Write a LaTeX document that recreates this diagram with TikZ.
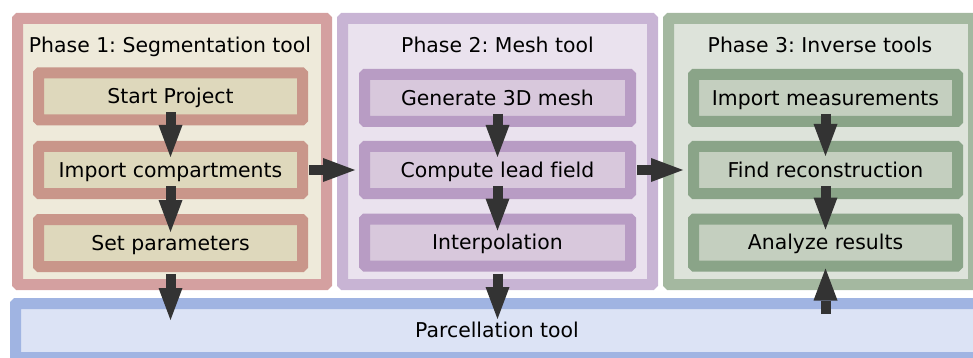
\documentclass[tikz,border=0pt]{standalone}
\usepackage{fontspec}
\setmainfont{DejaVu Sans}[Ligatures={NoCommon}]
\usetikzlibrary{arrows.meta}
\frenchspacing
\definecolor{pAborder}{HTML}{D4A0A0}
\definecolor{pAfill}{HTML}{EEEADA}
\definecolor{bAborder}{HTML}{C9968A}
\definecolor{bAfill}{HTML}{DED8BC}
\definecolor{pBborder}{HTML}{C8B4D4}
\definecolor{pBfill}{HTML}{EAE2EE}
\definecolor{bBborder}{HTML}{B89CC4}
\definecolor{bBfill}{HTML}{D8C8DC}
\definecolor{pCborder}{HTML}{A4B8A0}
\definecolor{pCfill}{HTML}{DDE3DA}
\definecolor{bCborder}{HTML}{8AA488}
\definecolor{bCfill}{HTML}{C4CFBF}
\definecolor{parcborder}{HTML}{A0B4E2}
\definecolor{parcfill}{HTML}{DCE3F5}
\definecolor{arrcol}{HTML}{333333}
\tikzset{
  lbl/.style={font=\fontsize{20.4}{24}\selectfont, text height=14.87pt, text depth=0pt, inner sep=0pt},
  phasebox/.style={draw, line width=11pt, rounded corners=1pt, inner sep=0pt, minimum height=266pt},
  stepbox/.style={lbl, draw, line width=11pt, rounded corners=1pt, minimum width=264pt, minimum height=47pt},
  arr/.style={draw=arrcol, line width=10pt, -{Triangle[length=32pt,width=24pt,line width=0pt]}}
}
\begin{document}
\begin{tikzpicture}[x=1pt,y=-1pt]
\useasboundingbox (0,0) rectangle (973,358);
\clip (0,0) rectangle (973,358);
% phases
\node[phasebox, draw=pAborder, fill=pAfill, minimum width=309pt] (ph1) at (172,151.5) {};
\node[phasebox, draw=pBborder, fill=pBfill, minimum width=310pt] (ph2) at (497.5,151.5) {};
\node[phasebox, draw=pCborder, fill=pCfill, minimum width=305pt] (ph3) at (821,151.5) {};
\node[lbl] (t1) at (170,45) {Phase 1: Segmentation tool};
\node[lbl] (t2) at (497.5,45) {Phase 2: Mesh tool};
\node[lbl] (t3) at (820,45) {Phase 3: Inverse tools};
% phase 1 steps
\node[stepbox, draw=bAborder, fill=bAfill] (sp) at (170.5,96.5) {Start Project};
\node[stepbox, draw=bAborder, fill=bAfill] (ic) at (170.5,170) {Import compartments};
\node[stepbox, draw=bAborder, fill=bAfill] (sps) at (170.5,243) {Set parameters};
% phase 2 steps
\node[stepbox, draw=bBborder, fill=bBfill, minimum width=266pt] (gm) at (497.5,98) {Generate 3D mesh};
\node[stepbox, draw=bBborder, fill=bBfill, minimum width=266pt] (cl) at (497.5,170) {Compute lead field};
\node[stepbox, draw=bBborder, fill=bBfill, minimum width=266pt] (ip) at (497.5,242.5) {Interpolation};
% phase 3 steps
\node[stepbox, draw=bCborder, fill=bCfill] (im) at (825.5,98) {Import measurements};
\node[stepbox, draw=bCborder, fill=bCfill] (fr) at (825.5,170) {Find reconstruction};
\node[stepbox, draw=bCborder, fill=bCfill] (ar) at (825.5,242.5) {Analyze results};
% parcellation
\node[lbl, draw=parcborder, fill=parcfill, line width=11pt, rounded corners=1pt, minimum width=963pt, minimum height=54pt] (pt) at (497,330.5) {Parcellation tool};
% helper coordinates
\coordinate (c1) at (sps.south |- pt.north);
\coordinate (c2) at (ip.south |- pt.north);
\coordinate (c3) at (ar.south |- pt.north);
% arrows
\draw[arr] ([yshift=13pt]sp.south) -- ([yshift=-16pt]ic.north);
\draw[arr] ([yshift=13pt]ic.south) -- ([yshift=-18pt]sps.north);
\draw[arr] ([yshift=-2pt]sps.south) -- ([yshift=-22pt]c1);
\draw[arr] ([yshift=13pt]gm.south) -- ([yshift=-16pt]cl.north);
\draw[arr] ([yshift=13pt]cl.south) -- ([yshift=-17pt]ip.north);
\draw[arr] ([yshift=-2pt]ip.south) -- ([yshift=-21pt]c2);
\draw[arr] ([yshift=13pt]im.south) -- ([yshift=-15pt]fr.north);
\draw[arr] ([yshift=13pt]fr.south) -- ([yshift=-16pt]ar.north);
\draw[arr] ([yshift=-16pt]c3) -- ([yshift=3pt]ar.south);
\draw[arr] ([xshift=1pt]ic.east) -- ([xshift=-4pt]cl.west);
\draw[arr] ([xshift=1pt]cl.east) -- ([xshift=-5pt]fr.west);
\end{tikzpicture}
\end{document}
